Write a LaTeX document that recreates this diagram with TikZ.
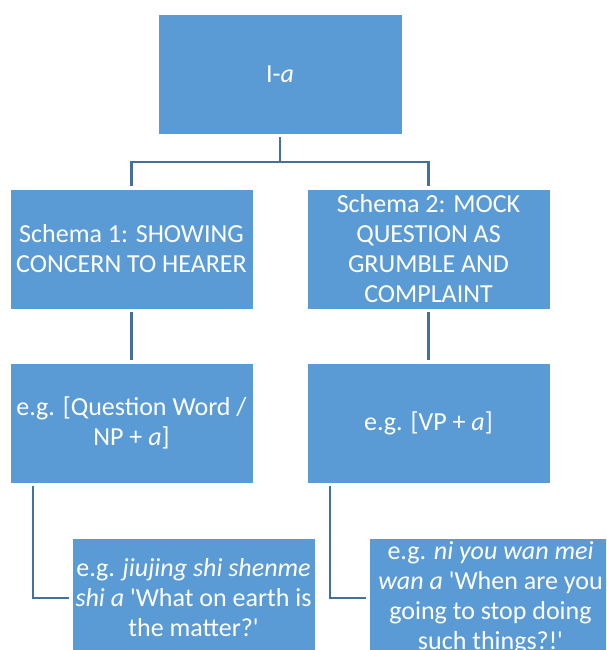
\documentclass[tikz,border=0pt]{standalone}
\usepackage{fontspec}
\setmainfont{Carlito}
\usetikzlibrary{calc}
\definecolor{boxblue}{RGB}{91,155,213}
\definecolor{linkblue}{RGB}{65,113,156}
\newcommand{\sq}{\textquotesingle}
\begin{document}
\begin{tikzpicture}[x=1pt,y=-1pt,
  box/.style={fill=boxblue, draw=white, line width=0.8pt, text=white,
    align=center, inner sep=0pt, outer sep=3pt,
    minimum width=243pt, minimum height=120pt,
    font=\fontsize{26}{30}\selectfont},
  link/.style={draw=linkblue, line width=2.5pt}]
\useasboundingbox (0,0) rectangle (606,650);
\clip (0,0) rectangle (606,650);

% boxes
\node[box, minimum width=244pt] (top) at (280,74) {I-\textit{a}};
\node[box] (s1) at (131.5,249) {Schema 1: SHOWING\\CONCERN TO HEARER};
\node[box] (s2) at (428.5,249) {Schema 2: MOCK\\QUESTION AS\\GRUMBLE AND\\COMPLAINT};
\node[box] (e1) at (131.5,423) {e.g. [Question Word /\\NP + \textit{a}]};
\node[box] (e2) at (428.5,423) {e.g. [VP + \textit{a}]};
\node[box] (x1) at (193.5,598) {e.g. \textit{jiujing shi shenme}\\\textit{shi a} \sq What on earth is\\the matter?\sq};
\node[box] (x2) at (490.5,598) {e.g. \textit{ni you wan mei}\\\textit{wan a} \sq When are you\\going to stop doing\\such things?!\sq};

% connectors
\coordinate (bus) at (280,162);
\draw[link] (top.south) -- (top.south |- bus);
\draw[link] (s1.north) -- (s1.north |- bus) -- (s2.north |- bus) -- (s2.north);
\draw[link] (s1.south) -- (e1.north);
\draw[link] (s2.south) -- (e2.north);
\draw[link] ($(e1.south west)+(26,0)$) |- (x1.west);
\draw[link] ($(e2.south west)+(26,0)$) |- (x2.west);
\end{tikzpicture}
\end{document}
